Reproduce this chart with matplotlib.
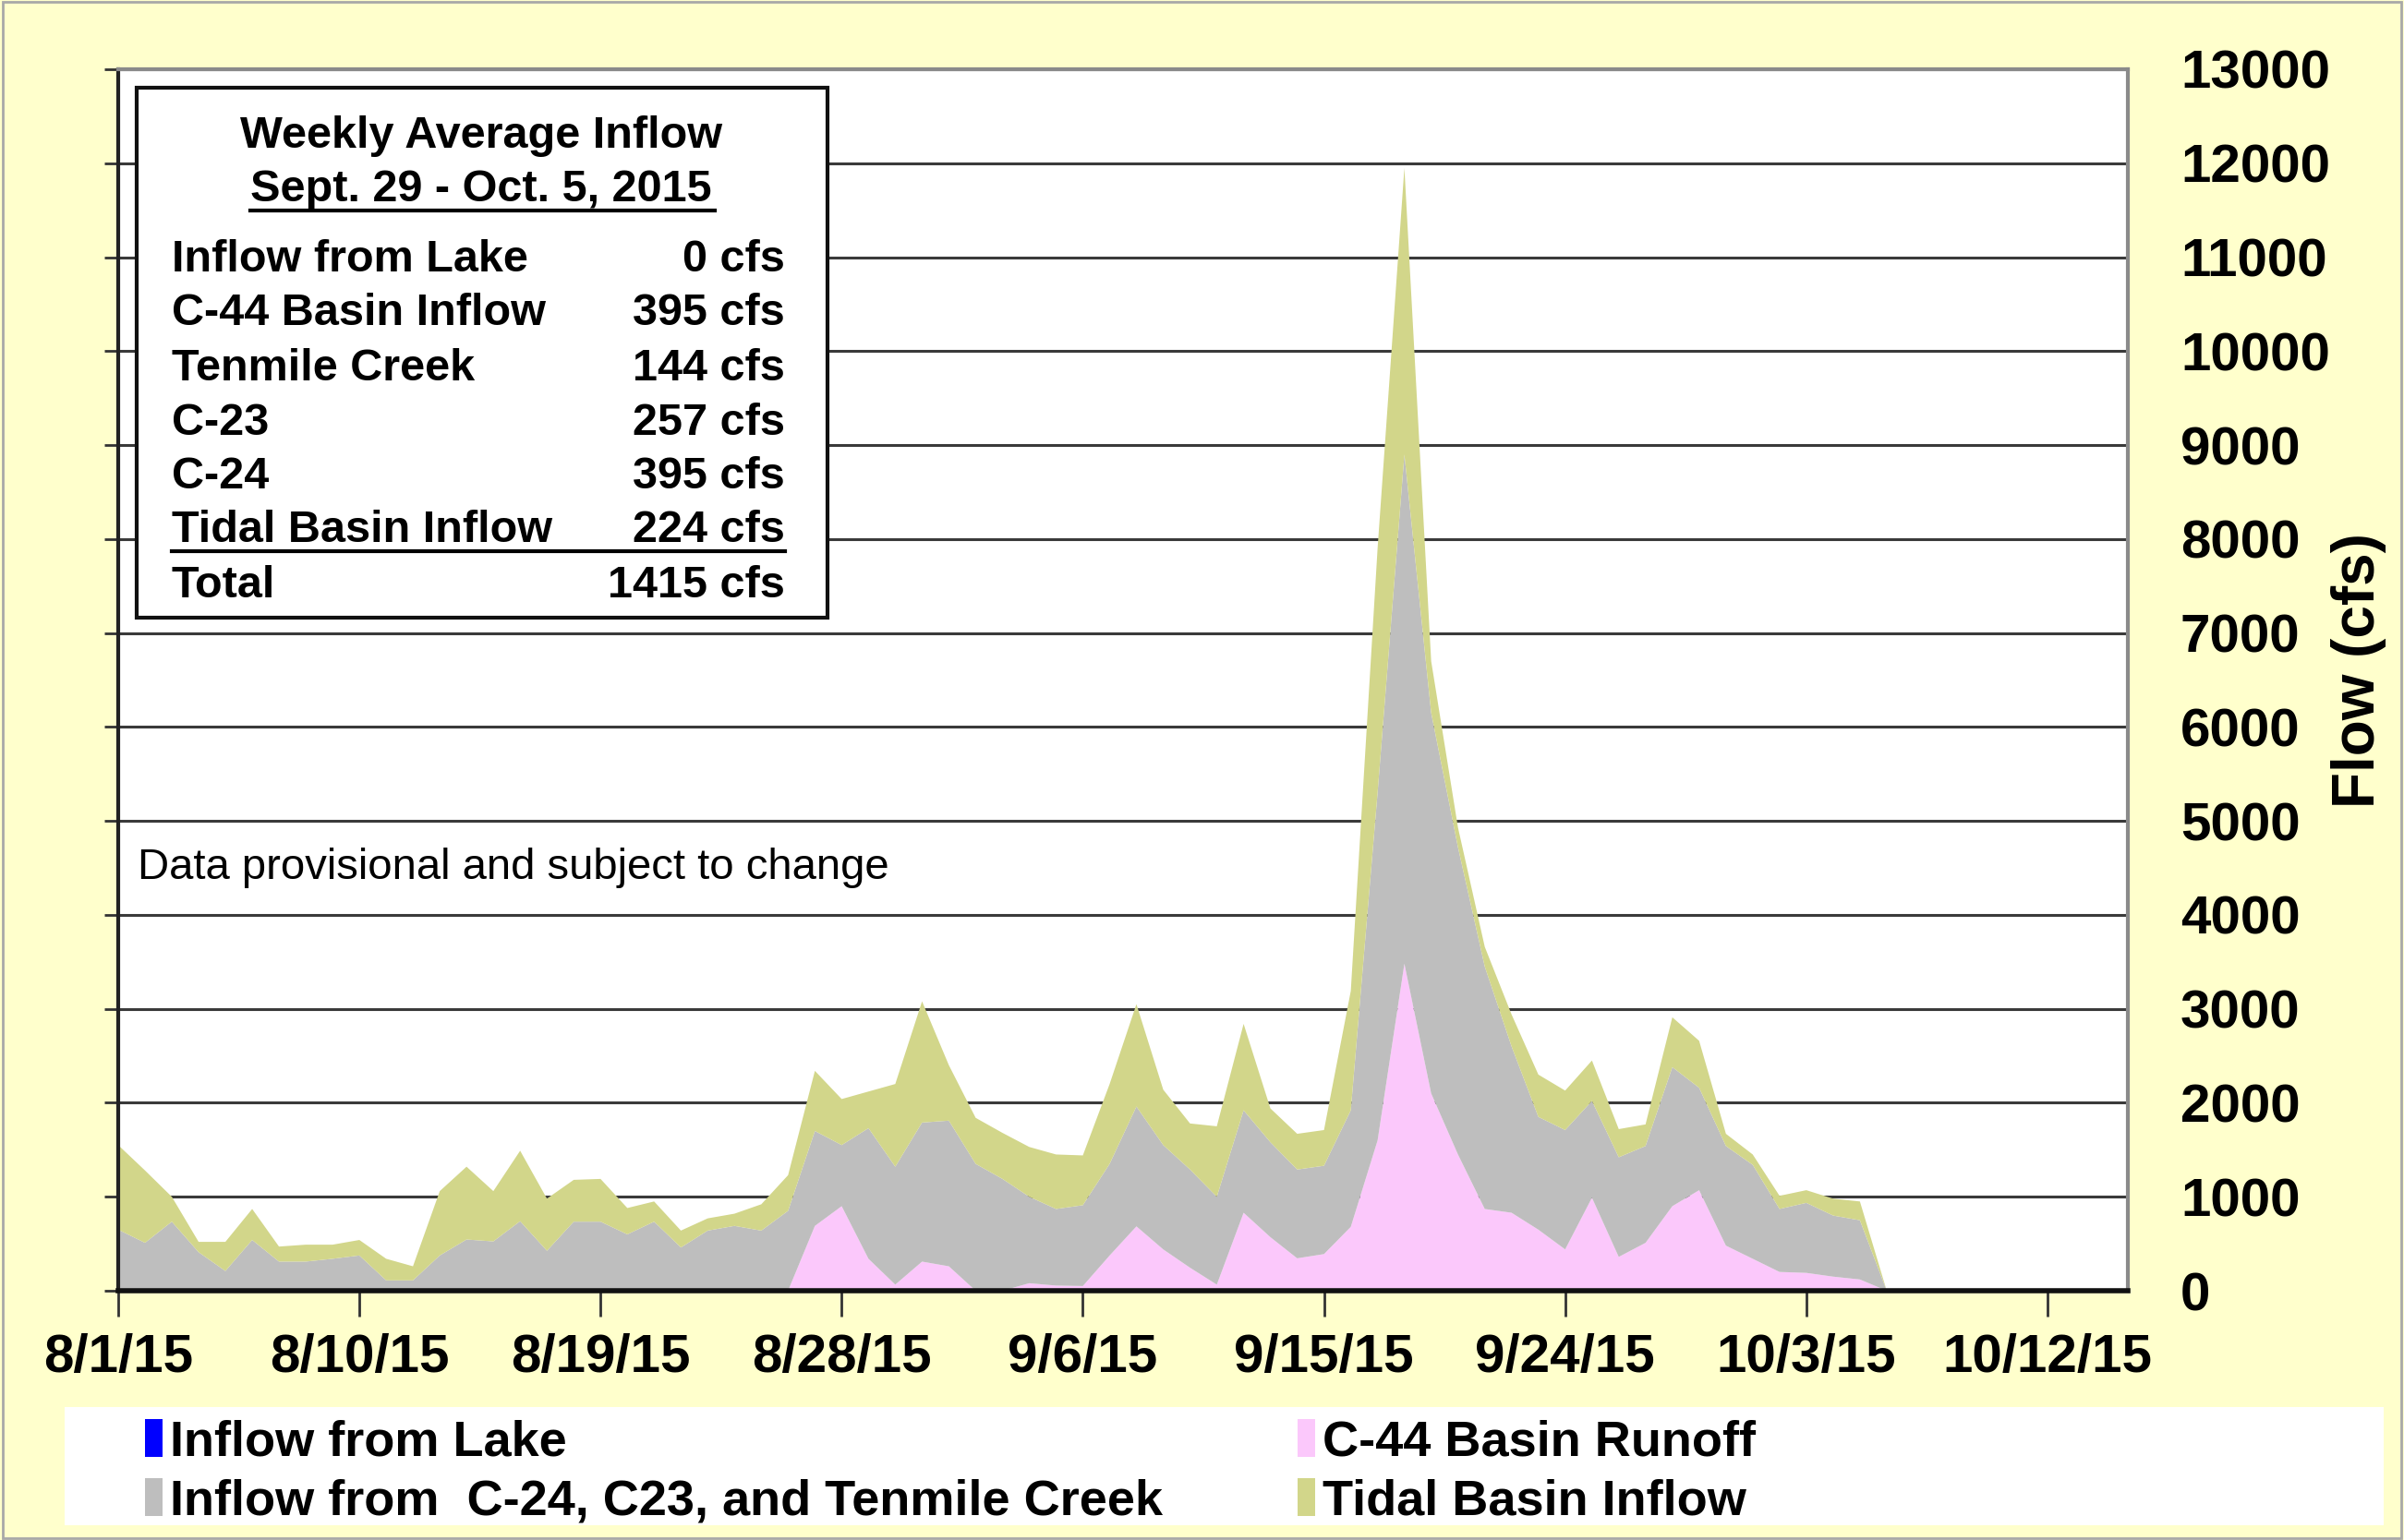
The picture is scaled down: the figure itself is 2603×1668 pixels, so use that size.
import numpy as np
import pandas as pd
import matplotlib.pyplot as plt
from matplotlib.patches import Rectangle, Patch

W, H = 2603, 1668

# daily flows (cfs), 8/1/15 .. 10/6/15
dates = pd.date_range('2015-08-01', '2015-10-06', freq='D')
lake = np.zeros(len(dates))
c44 = [0, 0, 0, 0, 0, 0, 0, 0, 0, 0,
       0, 0, 0, 0, 0, 0, 0, 0, 0, 0,
       0, 0, 0, 0, 0, 0, 690, 900, 340, 65,
       310, 260, 0, 0, 80, 55, 50, 375, 685, 440,
       245, 65, 830, 570, 345, 390, 680, 1600, 3480, 2100,
       1450, 870, 830, 650, 440, 990, 360, 510, 900, 1070,
       480, 340, 200, 190, 150, 120, 0]
c24 = [650, 510, 735, 410, 210, 540, 310, 310, 340, 375,
       110, 110, 375, 545, 525, 740, 425, 735, 735, 600,
       735, 460, 640, 690, 640, 850, 1010, 650, 1390, 1255,
       1480, 1550, 1350, 1190, 920, 815, 860, 975, 1275, 1110,
       1045, 935, 1090, 1010, 945, 940, 1240, 3700, 5420, 4050,
       3270, 2580, 1770, 1200, 1270, 1030, 1060, 1030, 1480, 1090,
       1060, 1000, 670, 745, 650, 630, 0]
tidal = [900, 770, 265, 110, 310, 330, 160, 180, 150, 165,
         230, 150, 685, 775, 535, 750, 555, 445, 455, 280,
         215, 180, 130, 130, 280, 380, 640, 490, 390, 880,
         1290, 590, 490, 490, 530, 580, 530, 850, 1090, 590,
         490, 750, 920, 360, 380, 380, 1270, 2600, 3050, 550,
         210, 210, 340, 450, 420, 430, 300, 230, 530, 500,
         130, 110, 140, 135, 180, 200, 0]

series_names = ['Inflow from Lake', 'C-44 Basin Runoff',
                'Inflow from  C-24, C23, and Tenmile Creek', 'Tidal Basin Inflow']
colors = ['#0000ff', '#fbc8fb', '#bebebe', '#d2d68a']

box_title = ['Weekly Average Inflow', 'Sept. 29 - Oct. 5, 2015']
box_rows = ['Inflow from Lake', 'C-44 Basin Inflow', 'Tenmile Creek', 'C-23', 'C-24',
            'Tidal Basin Inflow', 'Total']
box_vals = ['0 cfs', '395 cfs', '144 cfs', '257 cfs', '395 cfs', '224 cfs', '1415 cfs']

plt.rcParams['font.family'] = ['Liberation Sans', 'DejaVu Sans']

fig = plt.figure(figsize=(W / 100, H / 100), dpi=100, facecolor='#ffffcc')
fig.patches.append(Rectangle((0.001, 0.001), 0.998, 0.998, transform=fig.transFigure,
                             fill=False, edgecolor='#a8a8a8', lw=2))

ax = fig.add_axes([128 / W, 1 - 1398 / H, (2304 - 128) / W, (1398 - 75) / H])
ax.stackplot(dates, lake, c44, c24, tidal, colors=colors, labels=series_names,
             linewidth=0, zorder=2)

ax.set_xlim(pd.Timestamp('2015-08-01'), pd.Timestamp('2015-10-15'))
ax.set_ylim(0, 13000)
ax.set_yticks(range(0, 13001, 1000))
ax.yaxis.grid(True, color='#3a3a3a', lw=2.2, zorder=1)
ax.set_axisbelow(True)

xt = pd.date_range('2015-08-01', '2015-10-12', freq='9D')
ax.set_xticks(xt)
ax.set_xticklabels([f"{d.month}/{d.day}/{d.strftime('%y')}" for d in xt],
                   fontsize=42, fontweight='bold')
ax.tick_params(axis='x', length=20, width=2, color='#333333', pad=13)
ax.tick_params(axis='y', left=True, right=False, labelleft=False, labelright=True,
               length=11, width=2, color='#333333', labelsize=42, pad=30)
for lab in ax.get_yticklabels():
    lab.set_fontweight('bold')

ax.spines['bottom'].set_linewidth(4)
ax.spines['bottom'].set_color('#111111')
ax.spines['left'].set_linewidth(3)
ax.spines['left'].set_color('#222222')
for s in ['top', 'right']:
    ax.spines[s].set_color('#8a8a8a')
    ax.spines[s].set_linewidth(3)

fig.text(2554 / W, 1 - 726 / H, 'Flow (cfs)', rotation=90, ha='center', va='center',
         fontsize=46, fontweight='bold')

# summary box
def fx(px):
    return px / W

def fy(py):
    return 1 - py / H

fig.patches.append(Rectangle((fx(148), fy(669)), fx(896) - fx(148), fy(95) - fy(669),
                             transform=fig.transFigure, facecolor='white',
                             edgecolor='#111111', lw=3, zorder=5))
fig.text(fx(521), fy(148), box_title[0], ha='center', va='center', fontsize=35,
         fontweight='bold', zorder=6)
fig.text(fx(521), fy(206), box_title[1], ha='center', va='center', fontsize=35,
         fontweight='bold', zorder=6)
fig.add_artist(plt.Line2D([fx(271), fx(774)], [fy(228), fy(228)], color='black', lw=3,
                          transform=fig.transFigure, zorder=6))
row_y = [282, 340, 400, 458, 516, 574, 634]
for lab, val, y in zip(box_rows, box_vals, row_y):
    fig.text(fx(186), fy(y), lab, ha='left', va='center', fontsize=35,
             fontweight='bold', zorder=6)
    fig.text(fx(850), fy(y), val, ha='right', va='center', fontsize=35,
             fontweight='bold', zorder=6)
fig.add_artist(plt.Line2D([fx(186), fx(850)], [fy(597), fy(597)], color='black', lw=3,
                          transform=fig.transFigure, zorder=6))

fig.text(fx(149), fy(940), 'Data provisional and subject to change', ha='left',
         va='center', fontsize=34)

# legend
fig.patches.append(Rectangle((fx(70), fy(1652)), fx(2581) - fx(70), fy(1524) - fy(1652),
                             transform=fig.transFigure, facecolor='white',
                             edgecolor='none', zorder=1))
handles = [Patch(facecolor=c, edgecolor='none') for c in colors]
order = [0, 2, 1, 3]
fig.legend([handles[i] for i in order], [series_names[i] for i in order],
           loc='upper left', bbox_to_anchor=(fx(108), fy(1488)), ncol=2, frameon=False,
           handlelength=0.35, handleheight=0.8, handletextpad=0.15,
           columnspacing=2.7, labelspacing=0.25,
           prop={'weight': 'bold', 'size': 39})

fig.savefig('out.png', dpi=100, facecolor=fig.get_facecolor())
